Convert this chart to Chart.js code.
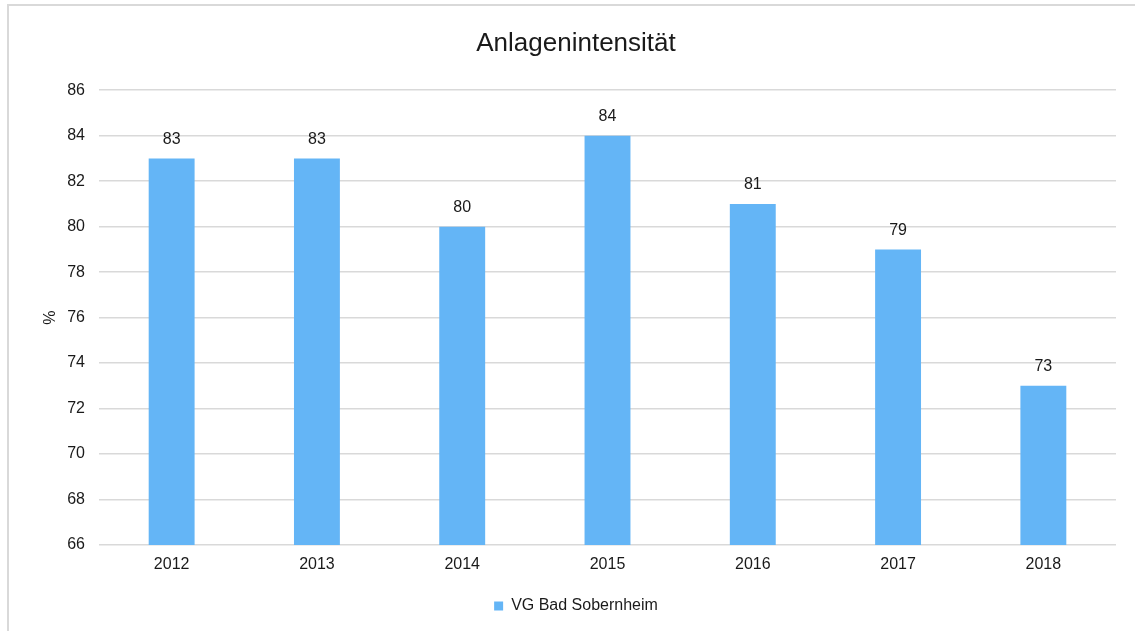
<!DOCTYPE html>
<html>
<head>
<meta charset="utf-8">
<style>
  html, body { margin: 0; padding: 0; background: #ffffff; }
  #wrap { position: relative; width: 1135px; height: 631px; }
</style>
<script src="https://cdn.jsdelivr.net/npm/chart.js@4.4.1/dist/chart.umd.min.js"></script>
</head>
<body>
<div id="wrap"><canvas id="c" width="1135" height="631"></canvas></div>
<script>
const years = ['2012', '2013', '2014', '2015', '2016', '2017', '2018'];
const anlagenintensitaet = [83, 83, 80, 84, 81, 79, 73];
const seriesName = 'VG Bad Sobernheim';
const chartTitle = 'Anlagenintensität';
const yAxisTitle = '%';
const yMin = 66, yMax = 86, yStep = 2;

const FONT = '"Liberation Sans", Arial, Helvetica, sans-serif';
const BAR_COLOR = '#64B5F6';
const GRID_COLOR = '#d9d9d9';
const TEXT_COLOR = '#1a1a1a';

// Frame lines along the top and left of the chart
const framePlugin = {
  id: 'frame',
  beforeDraw(chart) {
    const ctx = chart.ctx;
    ctx.save();
    ctx.fillStyle = '#ffffff';
    ctx.fillRect(0, 0, chart.width, chart.height);
    ctx.strokeStyle = GRID_COLOR;
    ctx.lineWidth = 2;
    ctx.beginPath();
    ctx.moveTo(8, chart.height);
    ctx.lineTo(8, 5);
    ctx.lineTo(chart.width, 5);
    ctx.stroke();
    ctx.restore();
  }
};

// Value labels above each bar
const valueLabels = {
  id: 'valueLabels',
  afterDatasetsDraw(chart) {
    const ctx = chart.ctx;
    ctx.save();
    ctx.font = '16px ' + FONT;
    ctx.fillStyle = TEXT_COLOR;
    ctx.textAlign = 'center';
    ctx.textBaseline = 'middle';
    chart.data.datasets.forEach((ds, di) => {
      chart.getDatasetMeta(di).data.forEach((bar, i) => {
        ctx.fillText(String(ds.data[i]), bar.x, bar.y - 19);
      });
    });
    ctx.restore();
  }
};

new Chart(document.getElementById('c'), {
  type: 'bar',
  data: {
    labels: years,
    datasets: [{
      label: seriesName,
      data: anlagenintensitaet,
      backgroundColor: BAR_COLOR,
      borderWidth: 0,
      categoryPercentage: 1.0,
      barPercentage: 0.316
    }]
  },
  options: {
    responsive: false,
    animation: false,
    devicePixelRatio: 1,
    layout: { padding: { left: 36, right: 19, top: 0, bottom: 7 } },
    plugins: {
      title: {
        display: true,
        text: chartTitle,
        color: TEXT_COLOR,
        font: { family: FONT, size: 26, weight: 'normal' },
        padding: { top: 28, bottom: 31 }
      },
      legend: {
        display: true,
        position: 'bottom',
        labels: {
          color: TEXT_COLOR,
          font: { family: FONT, size: 16 },
          boxWidth: 9,
          boxHeight: 9,
          padding: 10
        }
      },
      tooltip: { enabled: false }
    },
    scales: {
      x: {
        grid: { display: false, drawTicks: false },
        border: { display: false },
        ticks: { color: TEXT_COLOR, font: { family: FONT, size: 16 }, padding: 10, maxRotation: 0 },
        afterFit(scale) { scale.height = 43; }
      },
      y: {
        min: yMin,
        max: yMax,
        grid: { color: GRID_COLOR, lineWidth: 1.5, drawTicks: false },
        border: { display: false },
        ticks: { stepSize: yStep, color: TEXT_COLOR, font: { family: FONT, size: 16 }, padding: 14 },
        title: {
          display: true,
          text: yAxisTitle,
          color: TEXT_COLOR,
          font: { family: FONT, size: 16 },
          padding: { top: 5, bottom: 0 }
        },
        afterFit(scale) { scale.width = 63; }
      }
    }
  },
  plugins: [framePlugin, valueLabels]
});
</script>
</body>
</html>
